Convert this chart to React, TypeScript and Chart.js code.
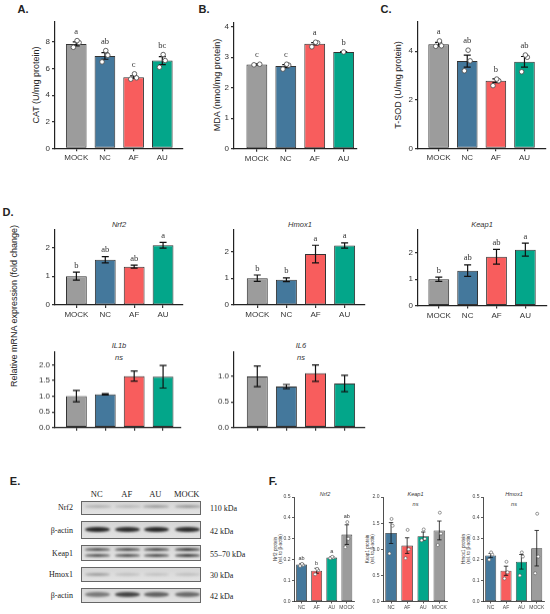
import React, { useEffect, useRef } from "react";
import { Chart, registerables } from "chart.js";
Chart.register(...registerables);

const SANS = "'Liberation Sans', Arial, Helvetica, sans-serif";
const SERIF = "'Liberation Serif', 'Times New Roman', serif";

const GROUPS = ["MOCK", "NC", "AF", "AU"];
const GROUPS_F = ["NC", "AF", "AU", "MOCK"];
const GROUP_COLORS: Record<string, string> = {
  MOCK: "#9c9c9c",
  NC: "#44789c",
  AF: "#f85d5d",
  AU: "#03a68a",
};

// ---- Panel A: CAT
const catMeans = [7.85, 6.95, 5.35, 6.6];
const catErrs = [0.15, 0.25, 0.1, 0.3];
const catPoints = [[7.6, 7.95, 8.1], [6.5, 7.0, 7.35], [5.2, 5.3, 5.6], [6.1, 6.6, 7.05]];
const catLetters = ["a", "ab", "c", "bc"];
const catTicks = [0, 2, 4, 6, 8];

// ---- Panel B: MDA
const mdaMeans = [2.76, 2.71, 3.44, 3.17];
const mdaErrs = [0.02, 0.05, 0.04, 0.01];
const mdaPoints = [[2.75, 2.77], [2.61, 2.74, 2.77], [3.34, 3.47, 3.49], [3.17]];
const mdaLetters = ["c", "c", "a", "b"];
const mdaTicks = [0, 1, 2, 3, 4];

// ---- Panel C: T-SOD
const sodMeans = [4.28, 3.59, 2.78, 3.56];
const sodErrs = [0.08, 0.25, 0.08, 0.22];
const sodPoints = [[4.2, 4.22, 4.42], [3.19, 3.6, 4.04], [2.58, 2.78, 2.85], [3.15, 3.75, 3.84]];
const sodLetters = ["a", "ab", "b", "ab"];
const sodTicks = [0, 2, 4];

// ---- Panel D: relative mRNA expression
const nrf2Means = [1.0, 1.57, 1.33, 2.07];
const nrf2Errs = [0.14, 0.11, 0.05, 0.1];
const nrf2Letters = ["b", "ab", "ab", "a"];
const hmox1Means = [1.0, 0.94, 1.9, 2.22];
const hmox1Errs = [0.12, 0.07, 0.33, 0.1];
const hmox1Letters = ["b", "b", "a", "a"];
const keap1Means = [1.0, 1.33, 1.86, 2.13];
const keap1Errs = [0.08, 0.22, 0.28, 0.25];
const keap1Letters = ["b", "ab", "ab", "a"];
const il1bMeans = [1.0, 1.06, 1.64, 1.62];
const il1bErrs = [0.18, 0.02, 0.16, 0.36];
const il6Means = [1.0, 0.8, 1.06, 0.86];
const il6Errs = [0.2, 0.04, 0.16, 0.16];
const dTicks = [0, 1, 2];
const il1bTicks = [0, 0.5, 1.0, 1.5, 2.0];
const il6Ticks = [0, 0.5, 1.0];

// ---- Panel E: western blot
const blotLanes = ["NC", "AF", "AU", "MOCK"];
const blotRowLabels = ["Nrf2", "β-actin", "Keap1", "Hmox1", "β-actin"];
const blotSizes = ["110 kDa", "42 kDa", "55–70 kDa", "30 kDa", "42 kDa"];
const nrf2Band = [0.2, 0.16, 0.3, 0.32];
const actin1Band = [0.92, 0.9, 0.92, 0.9];
const keap1Band = [0.68, 0.7, 0.72, 0.8];
const hmox1Band = [0.3, 0.14, 0.12, 0.14];
const actin2Band = [0.5, 0.78, 0.62, 0.58];

// ---- Panel F: protein levels
const fNrf2Means = [0.177, 0.147, 0.21, 0.32];
const fNrf2Errs = [0.005, 0.012, 0.004, 0.047];
const fNrf2Points = [[0.17, 0.175, 0.18], [0.13, 0.15, 0.156], [0.207, 0.21, 0.214], [0.26, 0.3, 0.38]];
const fNrf2Letters = ["ab", "b", "a", "ab"];
const fKeap1Means = [1.31, 1.07, 1.25, 1.36];
const fKeap1Errs = [0.2, 0.15, 0.08, 0.18];
const fKeap1Points = [[0.92, 1.45, 1.58], [0.83, 1.0, 1.37], [1.17, 1.2, 1.38], [1.08, 1.3, 1.7]];
const fHmox1Means = [0.22, 0.147, 0.19, 0.255];
const fHmox1Errs = [0.01, 0.022, 0.035, 0.085];
const fHmox1Points = [[0.2, 0.225, 0.235], [0.11, 0.14, 0.19], [0.125, 0.215, 0.235], [0.135, 0.215, 0.42]];
const fSmallTicks = [0, 0.1, 0.2, 0.3, 0.4, 0.5];
const fKeapTicks = [0, 0.5, 1.0, 1.5, 2.0];

const JITTER = [-0.1, 0.1, 0.03, -0.04];

type Spec = {
  labels: string[];
  means: number[];
  errs: number[];
  points?: number[][];
  letters?: string[];
  yTicks: number[];
  yMax: number;
  decimals: number;
  axisX: number;
  axisEnd: number;
  top: number;
  bottom: number;
  xMin: number;
  xMax: number;
  small?: boolean;
  showX?: boolean;
};

const PAD_TOP = 22;
const PAD_RIGHT = 4;

function styleFor(small?: boolean) {
  return small
    ? { tickFont: 5, tickLen: 2, tickPad: 1.5, axisW: 0.8, barBorder: 0.8, cap: 2.2, errW: 0.8, pr: 1.5, pbw: 0.6, letterFont: `5.5px ${SANS}`, gap: 2.5, yw: 14, xh: 10, tickColor: "#444" }
    : { tickFont: 8, tickLen: 3, tickPad: 2, axisW: 1.2, barBorder: 1, cap: 3.5, errW: 1.2, pr: 2.3, pbw: 0.9, letterFont: `8.5px ${SERIF}`, gap: 4.5, yw: 18, xh: 16, tickColor: "#333" };
}

function BarPanel({ spec }: { spec: Spec }) {
  const ref = useRef<HTMLCanvasElement>(null);
  const st = styleFor(spec.small);
  const left = spec.axisX - st.yw;
  const width = spec.axisEnd - spec.axisX + st.yw + PAD_RIGHT;
  const height = PAD_TOP + (spec.bottom - spec.top) + st.xh;

  useEffect(() => {
    if (!ref.current) return;
    const overlay = {
      id: "overlay",
      afterDatasetDraw(chart: any, args: any) {
        if (args.index !== 0) return;
        const ctx = chart.ctx;
        const xs = chart.scales.x;
        const ys = chart.scales.y;
        ctx.save();
        ctx.strokeStyle = "#111";
        ctx.lineWidth = st.errW;
        spec.means.forEach((m, i) => {
          const e = spec.errs[i];
          if (!e) return;
          const px = xs.getPixelForValue(i);
          const y1 = ys.getPixelForValue(m - e);
          const y2 = ys.getPixelForValue(m + e);
          ctx.beginPath();
          ctx.moveTo(px, y1);
          ctx.lineTo(px, y2);
          ctx.moveTo(px - st.cap, y1);
          ctx.lineTo(px + st.cap, y1);
          ctx.moveTo(px - st.cap, y2);
          ctx.lineTo(px + st.cap, y2);
          ctx.stroke();
        });
        ctx.restore();
      },
      afterDatasetsDraw(chart: any) {
        if (!spec.letters) return;
        const ctx = chart.ctx;
        const xs = chart.scales.x;
        const ys = chart.scales.y;
        ctx.save();
        ctx.font = st.letterFont;
        ctx.fillStyle = "#333";
        ctx.textAlign = "center";
        ctx.textBaseline = "alphabetic";
        spec.letters.forEach((l, i) => {
          let top = ys.getPixelForValue(spec.means[i] + spec.errs[i]);
          const pts = spec.points ? spec.points[i] : undefined;
          if (pts && pts.length) top = Math.min(top, ys.getPixelForValue(Math.max(...pts)) - st.pr);
          ctx.fillText(l, xs.getPixelForValue(i), top - st.gap);
        });
        ctx.restore();
      },
    };

    const datasets: any[] = [
      {
        type: "bar",
        order: 2,
        data: spec.means.map((m, i) => ({ x: i, y: m })),
        backgroundColor: spec.labels.map((l) => GROUP_COLORS[l]),
        borderColor: "#333",
        borderWidth: st.barBorder,
        borderSkipped: false,
        categoryPercentage: 1,
        barPercentage: 0.72,
      },
    ];
    if (spec.points) {
      const pts: any[] = [];
      spec.points.forEach((arr, i) => arr.forEach((v, j) => pts.push({ x: i + JITTER[j % JITTER.length] * (arr.length > 1 ? 1 : 0), y: v })));
      datasets.push({
        type: "scatter",
        order: 1,
        data: pts,
        showLine: false,
        pointRadius: st.pr,
        pointBackgroundColor: "#fff",
        pointBorderColor: "#555",
        pointBorderWidth: st.pbw,
      });
    }

    const tickFont = { family: SANS, size: st.tickFont };
    const grid = { display: true, drawOnChartArea: false, drawTicks: true, tickLength: st.tickLen, color: "#333", lineWidth: st.axisW, offset: false };
    const border = { display: true, color: "#222", width: st.axisW };

    const chart = new Chart(ref.current, {
      type: "bar",
      data: { datasets },
      options: {
        responsive: true,
        maintainAspectRatio: false,
        animation: false,
        events: [],
        layout: { padding: { top: PAD_TOP, right: PAD_RIGHT, left: 0, bottom: 0 } },
        plugins: { legend: { display: false }, tooltip: { enabled: false } },
        scales: {
          x: {
            type: "linear",
            min: spec.xMin,
            max: spec.xMax,
            offset: false,
            bounds: "data",
            afterBuildTicks: (s: any) => {
              s.ticks = spec.labels.map((_, i) => ({ value: i }));
            },
            afterFit: (s: any) => {
              s.height = st.xh;
            },
            ticks: {
              display: spec.showX !== false,
              autoSkip: false,
              maxRotation: 0,
              minRotation: 0,
              padding: st.tickPad,
              color: st.tickColor,
              font: tickFont,
              callback: (v: any) => spec.labels[Math.round(Number(v))] ?? "",
            },
            grid,
            border,
          },
          y: {
            type: "linear",
            min: 0,
            max: spec.yMax,
            bounds: "data",
            afterBuildTicks: (s: any) => {
              s.ticks = spec.yTicks.map((v) => ({ value: v }));
            },
            afterFit: (s: any) => {
              s.width = st.yw;
            },
            ticks: {
              padding: st.tickPad,
              color: st.tickColor,
              font: tickFont,
              callback: (v: any) => Number(v).toFixed(spec.decimals),
            },
            grid,
            border,
          },
        },
      } as any,
      plugins: [overlay],
    } as any);
    return () => chart.destroy();
  }, []);

  return (
    <div style={{ position: "absolute", left, top: spec.top - PAD_TOP, width, height }}>
      <canvas ref={ref} />
    </div>
  );
}

function T({ x, y, children, size = 9, weight = 400, italic = false, family = SANS, rotate = false, color = "#222", align = "center", lh = 1.1 }: any) {
  const tx = align === "center" ? "-50%" : align === "right" ? "-100%" : "0";
  return (
    <div
      style={{
        position: "absolute",
        left: x,
        top: y,
        transform: `translate(${tx},-50%)${rotate ? " rotate(-90deg)" : ""}`,
        transformOrigin: rotate ? "50% 50%" : undefined,
        fontSize: size,
        fontWeight: weight,
        fontStyle: italic ? "italic" : "normal",
        fontFamily: family,
        color,
        whiteSpace: "pre",
        lineHeight: lh,
        textAlign: "center",
      }}
    >
      {children}
    </div>
  );
}

function Blot() {
  const boxLeft = 81;
  const boxW = 120;
  const laneX = [15.7, 45.7, 74.3, 105.7];
  const laneLabelX = [96.7, 126.7, 155.3, 186.7];
  const rows = [
    { top: 500.7, h: 14.3, bands: nrf2Band, offs: [-1], bh: 3, bw: 26 },
    { top: 520.7, h: 18.7, bands: actin1Band, offs: [-0.7], bh: 5.5, bw: 25 },
    { top: 545, h: 16, bands: keap1Band, offs: [-3.5, 2.5], bh: 3, bw: 25 },
    { top: 566.7, h: 15, bands: hmox1Band, offs: [0.5], bh: 3.5, bw: 25 },
    { top: 587.7, h: 15.7, bands: actin2Band, offs: [-1.2], bh: 5, bw: 25 },
  ];
  return (
    <>
      {blotLanes.map((l, i) => (
        <T key={"lane" + i} x={laneLabelX[i]} y={495} size={8.5} family={SERIF} color="#222">
          {l}
        </T>
      ))}
      {rows.map((r, ri) => (
        <React.Fragment key={"row" + ri}>
          <T x={73} y={r.top + r.h / 2 + 0.5} size={8} family={SERIF} align="right" color="#222">
            {blotRowLabels[ri]}
          </T>
          <T x={210} y={r.top + r.h / 2 + 1.5} size={8} family={SERIF} align="left" color="#222">
            {blotSizes[ri]}
          </T>
          <div
            style={{
              position: "absolute",
              left: boxLeft,
              top: r.top,
              width: boxW,
              height: r.h,
              boxSizing: "border-box",
              border: "1px solid #666",
              background: "linear-gradient(#d6d6d6, #e2e2e2)",
              overflow: "hidden",
            }}
          >
            {r.bands.map((a, li) =>
              r.offs.map((o, oi) => (
                <div
                  key={li + "-" + oi}
                  style={{
                    position: "absolute",
                    left: laneX[li] - r.bw / 2,
                    top: r.h / 2 - 1 + o - r.bh / 2,
                    width: r.bw,
                    height: r.bh,
                    borderRadius: "45%",
                    background: `rgba(25,25,25,${a})`,
                    filter: "blur(0.8px)",
                  }}
                />
              ))
            )}
          </div>
        </React.Fragment>
      ))}
    </>
  );
}

export default function App() {
  const specA: Spec = { labels: GROUPS, means: catMeans, errs: catErrs, points: catPoints, letters: catLetters, yTicks: catTicks, yMax: 9.5, decimals: 0, axisX: 55, axisEnd: 183, top: 22, bottom: 148.3, xMin: -0.74, xMax: 3.69 };
  const specB: Spec = { labels: GROUPS, means: mdaMeans, errs: mdaErrs, points: mdaPoints, letters: mdaLetters, yTicks: mdaTicks, yMax: 4.12, decimals: 0, axisX: 234, axisEnd: 357, top: 22.5, bottom: 148.3, xMin: -0.79, xMax: 3.43 };
  const specC: Spec = { labels: GROUPS, means: sodMeans, errs: sodErrs, points: sodPoints, letters: sodLetters, yTicks: sodTicks, yMax: 5.2, decimals: 0, axisX: 418, axisEnd: 546, top: 22, bottom: 148.3, xMin: -0.72, xMax: 3.72 };

  const specNrf2: Spec = { labels: GROUPS, means: nrf2Means, errs: nrf2Errs, letters: nrf2Letters, yTicks: dTicks, yMax: 2.6, decimals: 0, axisX: 55, axisEnd: 183, top: 230, bottom: 305, xMin: -0.74, xMax: 3.69 };
  const specHmox1: Spec = { labels: GROUPS, means: hmox1Means, errs: hmox1Errs, letters: hmox1Letters, yTicks: dTicks, yMax: 2.8, decimals: 0, axisX: 234, axisEnd: 365, top: 230, bottom: 305, xMin: -0.8, xMax: 3.7 };
  const specKeap1: Spec = { labels: GROUPS, means: keap1Means, errs: keap1Errs, letters: keap1Letters, yTicks: dTicks, yMax: 2.88, decimals: 0, axisX: 418, axisEnd: 547, top: 229.5, bottom: 305, xMin: -0.72, xMax: 3.75 };
  const specIl1b: Spec = { labels: GROUPS, means: il1bMeans, errs: il1bErrs, yTicks: il1bTicks, yMax: 2.4, decimals: 1, axisX: 55, axisEnd: 181, top: 352, bottom: 426.7, xMin: -0.74, xMax: 3.62, showX: false };
  const specIl6: Spec = { labels: GROUPS, means: il6Means, errs: il6Errs, yTicks: il6Ticks, yMax: 1.47, decimals: 1, axisX: 234, axisEnd: 365, top: 352, bottom: 426.7, xMin: -0.8, xMax: 3.7, showX: false };

  const specFN: Spec = { labels: GROUPS_F, means: fNrf2Means, errs: fNrf2Errs, points: fNrf2Points, letters: fNrf2Letters, yTicks: fSmallTicks, yMax: 0.5, decimals: 1, axisX: 294, axisEnd: 355, top: 496.5, bottom: 601, xMin: -0.5, xMax: 3.5, small: true };
  const specFK: Spec = { labels: GROUPS_F, means: fKeap1Means, errs: fKeap1Errs, points: fKeap1Points, yTicks: fKeapTicks, yMax: 2.0, decimals: 1, axisX: 383, axisEnd: 448, top: 496.5, bottom: 601, xMin: -0.5, xMax: 3.5, small: true };
  const specFH: Spec = { labels: GROUPS_F, means: fHmox1Means, errs: fHmox1Errs, points: fHmox1Points, yTicks: fSmallTicks, yMax: 0.5, decimals: 1, axisX: 483, axisEnd: 545, top: 496.5, bottom: 601, xMin: -0.5, xMax: 3.5, small: true };

  return (
    <div style={{ position: "fixed", left: 0, top: 0, width: 550, height: 614, background: "#fff", overflow: "hidden", fontFamily: SANS }}>
      {/* panel letters */}
      <T x={23} y={9} size={11} weight={700}>A.</T>
      <T x={204} y={9} size={11} weight={700}>B.</T>
      <T x={386} y={9} size={11} weight={700}>C.</T>
      <T x={8} y={212} size={11} weight={700}>D.</T>
      <T x={15} y={481} size={11} weight={700}>E.</T>
      <T x={273} y={481} size={11} weight={700}>F.</T>

      {/* y titles */}
      <T x={37} y={85} size={9} rotate>CAT (U/mg protein)</T>
      <T x={218} y={85} size={9} rotate>MDA (nmol/mg protein)</T>
      <T x={399} y={85} size={9} rotate>T-SOD (U/mg protein)</T>
      <T x={15} y={306} size={9} rotate>Relative mRNA expression (fold change)</T>

      {/* D titles */}
      <T x={119} y={225} size={7.5} italic color="#333">Nrf2</T>
      <T x={300} y={225} size={7.5} italic color="#333">Hmox1</T>
      <T x={482} y={225} size={7.5} italic color="#333">Keap1</T>
      <T x={119} y={346} size={7.5} italic color="#333">IL1b</T>
      <T x={119} y={358} size={7.5} italic color="#333">ns</T>
      <T x={301} y={346} size={7.5} italic color="#333">IL6</T>
      <T x={301} y={358} size={7.5} italic color="#333">ns</T>

      {/* F titles */}
      <T x={325} y={493.5} size={5.5} italic color="#333">Nrf2</T>
      <T x={415.5} y={493.5} size={5.5} italic color="#333">Keap1</T>
      <T x={415.5} y={503.5} size={5.5} italic color="#333">ns</T>
      <T x={514} y={493.5} size={5.5} italic color="#333">Hmox1</T>
      <T x={514} y={503.5} size={5.5} italic color="#333">ns</T>
      <T x={278} y={549} size={4.6} rotate color="#333">{"Nrf2 protein\n(rel. to β-actin)"}</T>
      <T x={369.5} y={549} size={4.6} rotate color="#333">{"Keap1 protein\n(rel. to β-actin)"}</T>
      <T x={466} y={549} size={4.6} rotate color="#333">{"Hmox1 protein\n(rel. to β-actin)"}</T>

      <BarPanel spec={specA} />
      <BarPanel spec={specB} />
      <BarPanel spec={specC} />
      <BarPanel spec={specNrf2} />
      <BarPanel spec={specHmox1} />
      <BarPanel spec={specKeap1} />
      <BarPanel spec={specIl1b} />
      <BarPanel spec={specIl6} />
      <BarPanel spec={specFN} />
      <BarPanel spec={specFK} />
      <BarPanel spec={specFH} />

      <Blot />
    </div>
  );
}
